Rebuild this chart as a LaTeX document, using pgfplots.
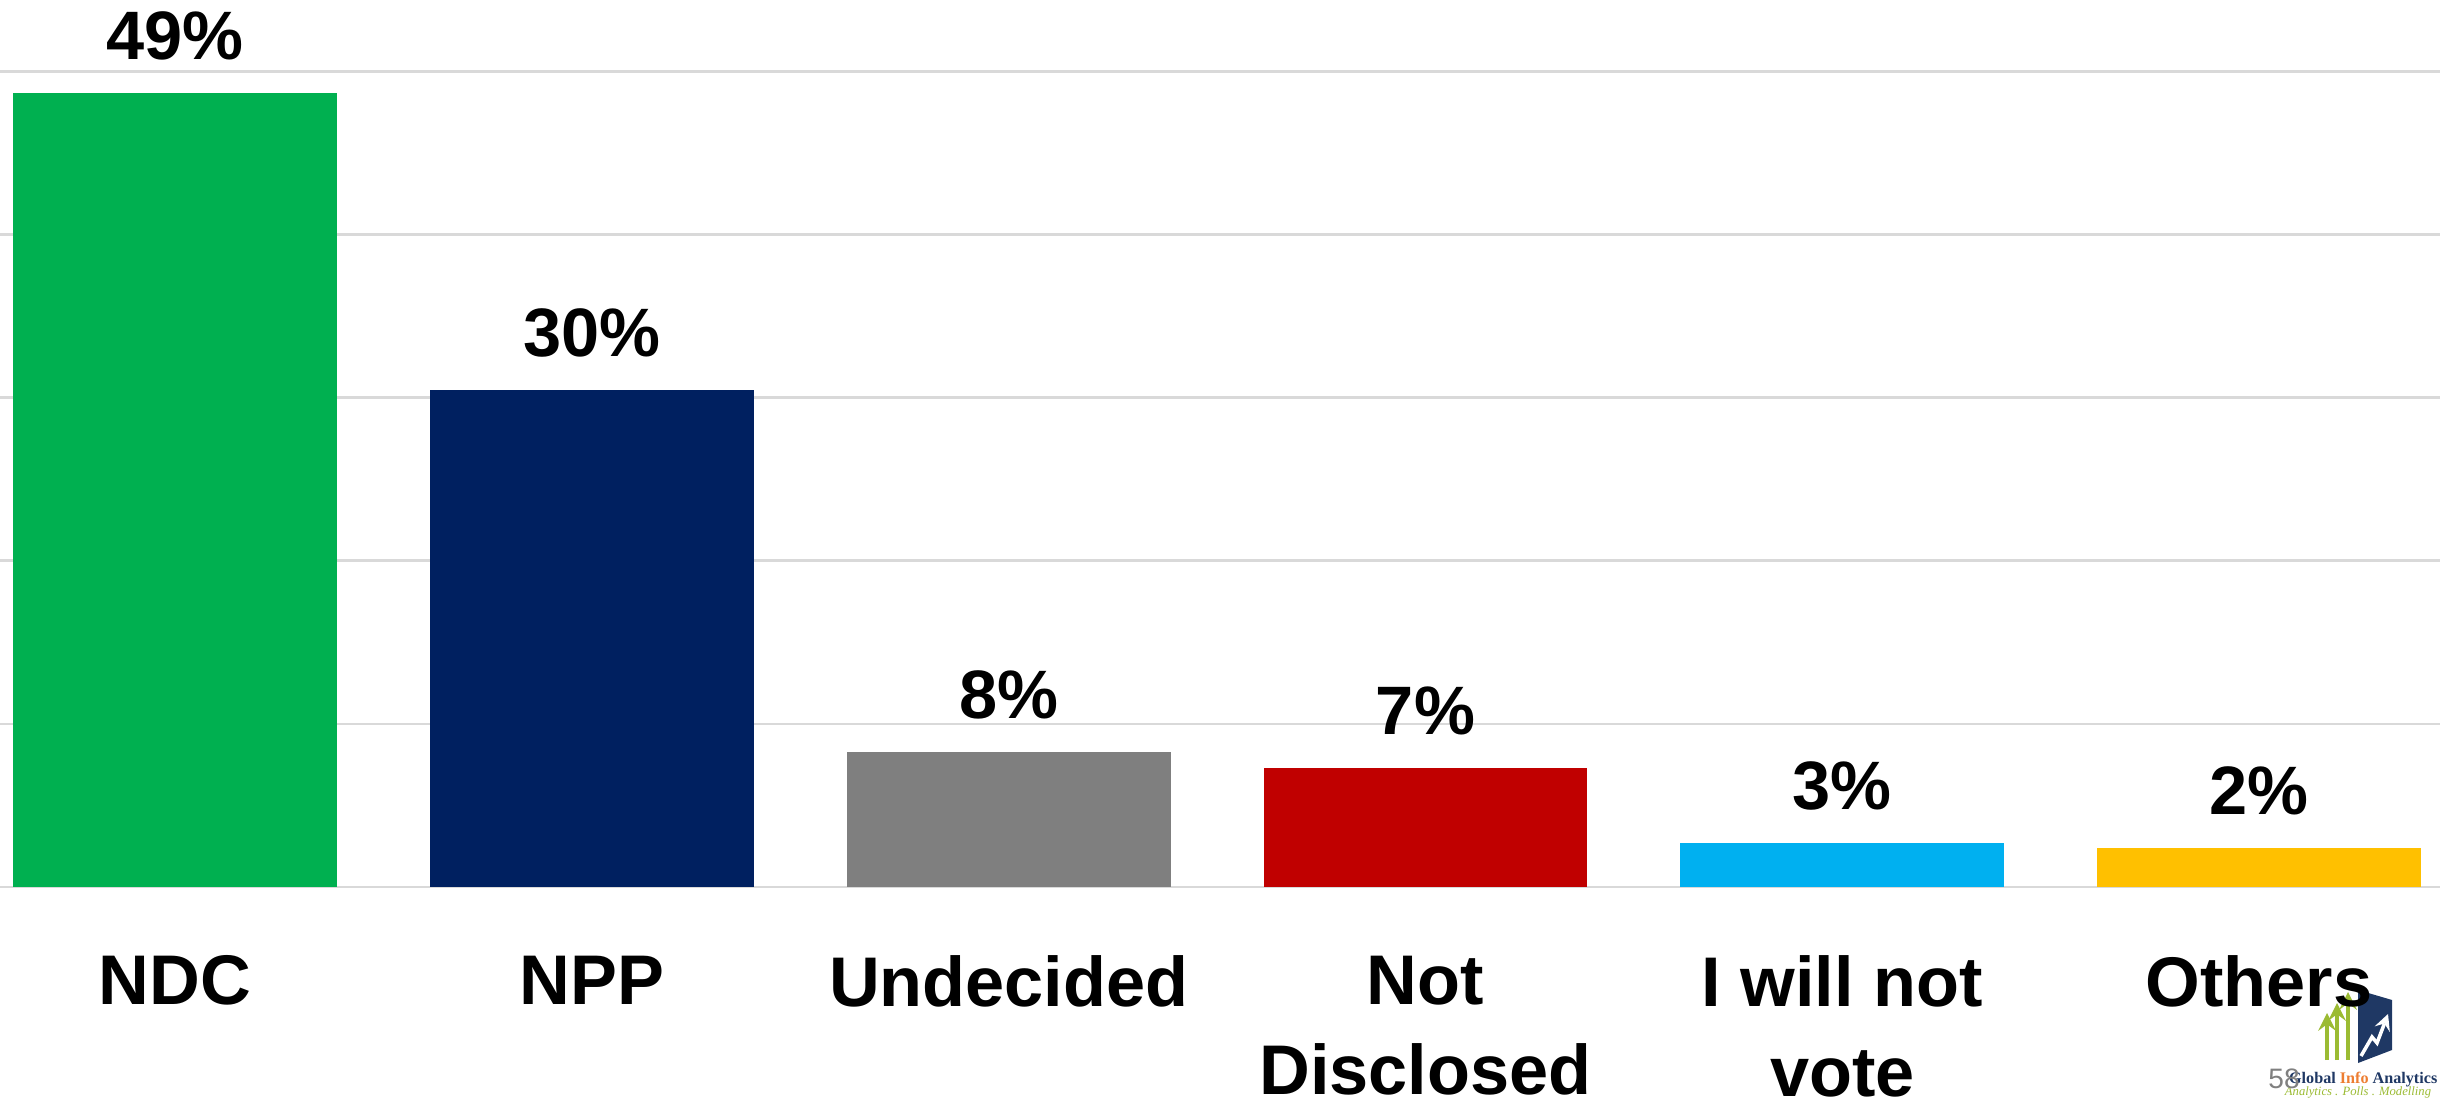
\documentclass[border=0pt]{standalone}
\usepackage{fontspec}
\setmainfont{Liberation Sans}
\newfontfamily\logoserif{Liberation Serif}
\usepackage{pgfplots}
\pgfplotsset{compat=1.18}

\definecolor{ndc}{HTML}{00B050}
\definecolor{npp}{HTML}{002060}
\definecolor{undec}{HTML}{7F7F7F}
\definecolor{notdis}{HTML}{C00000}
\definecolor{novote}{HTML}{00B0F0}
\definecolor{others}{HTML}{FFC000}
\definecolor{gridgray}{HTML}{D9D9D9}
\definecolor{logoblue}{HTML}{1F3864}
\definecolor{logogreen}{HTML}{9BBB33}
\definecolor{logoorange}{HTML}{ED7D31}

\begin{document}
\begin{tikzpicture}
\useasboundingbox (0cm,0cm) rectangle (24.4cm,11cm);

% logo, bottom right
\fill[logoblue] (23.58,1.10) -- (23.92,1.00) -- (23.92,0.50) -- (23.58,0.37) -- cycle;
\draw[white, line width=1pt, -stealth] (23.61,0.44) -- (23.72,0.63) -- (23.77,0.57) -- (23.88,0.86);
\foreach \x/\t in {23.27/0.87, 23.37/0.97, 23.48/1.08}
  \draw[logogreen, line width=1.2pt, -stealth] (\x,0.40) -- (\x,\t);
\node[anchor=base east, inner sep=0pt, font=\logoserif\bfseries\fontsize{4.6}{5}\selectfont]
  at (24.38,0.17) {\textcolor{logoblue}{Global} \textcolor{logoorange}{Info} \textcolor{logoblue}{Analytics}};
\node[anchor=base, inner sep=0pt, text=logogreen, font=\logoserif\itshape\fontsize{3.6}{4}\selectfont]
  at (23.58,0.05) {Analytics . Polls . Modelling};
\node[anchor=base, inner sep=0pt, text=gray, font=\fontsize{8}{9}\selectfont] at (22.84,0.12) {58};

\begin{axis}[
    at={(0cm,2.13cm)}, anchor=south west,
    scale only axis, width=24.4cm, height=8.87cm,
    xmin=-0.42, xmax=5.434, ymin=0, ymax=54.4,
    ybar, bar width=0.777,
    axis line style={draw=none},
    major tick length=0pt,
    ytick={0,10,20,30,40,50}, yticklabels={},
    ymajorgrids, grid style={draw=gridgray, line width=0.8pt},
    xtick={0,1,2,3,4,5},
    xticklabels={NDC, NPP, Undecided, {Not\\Disclosed}, {I will not\\vote}, Others},
    xticklabel style={anchor=north, inner sep=0pt, yshift=-0.68cm, align=center,
        font=\fontsize{20}{25.6}\selectfont\bfseries},
    point meta=explicit symbolic,
    nodes near coords={\pgfplotspointmeta\%},
    every node near coord/.append style={inner sep=0pt, yshift=0.32cm,
        font=\fontsize{19.5}{23}\selectfont\bfseries},
]
\addplot[fill=ndc, draw=none, bar shift=0pt] coordinates {(0,48.7) [49]};
\addplot[fill=npp, draw=none, bar shift=0pt] coordinates {(1,30.5) [30]};
\addplot[fill=undec, draw=none, bar shift=0pt] coordinates {(2,8.3) [8]};
\addplot[fill=notdis, draw=none, bar shift=0pt] coordinates {(3,7.3) [7]};
\addplot[fill=novote, draw=none, bar shift=0pt] coordinates {(4,2.7) [3]};
\addplot[fill=others, draw=none, bar shift=0pt] coordinates {(5,2.4) [2]};
\end{axis}
\end{tikzpicture}
\end{document}
